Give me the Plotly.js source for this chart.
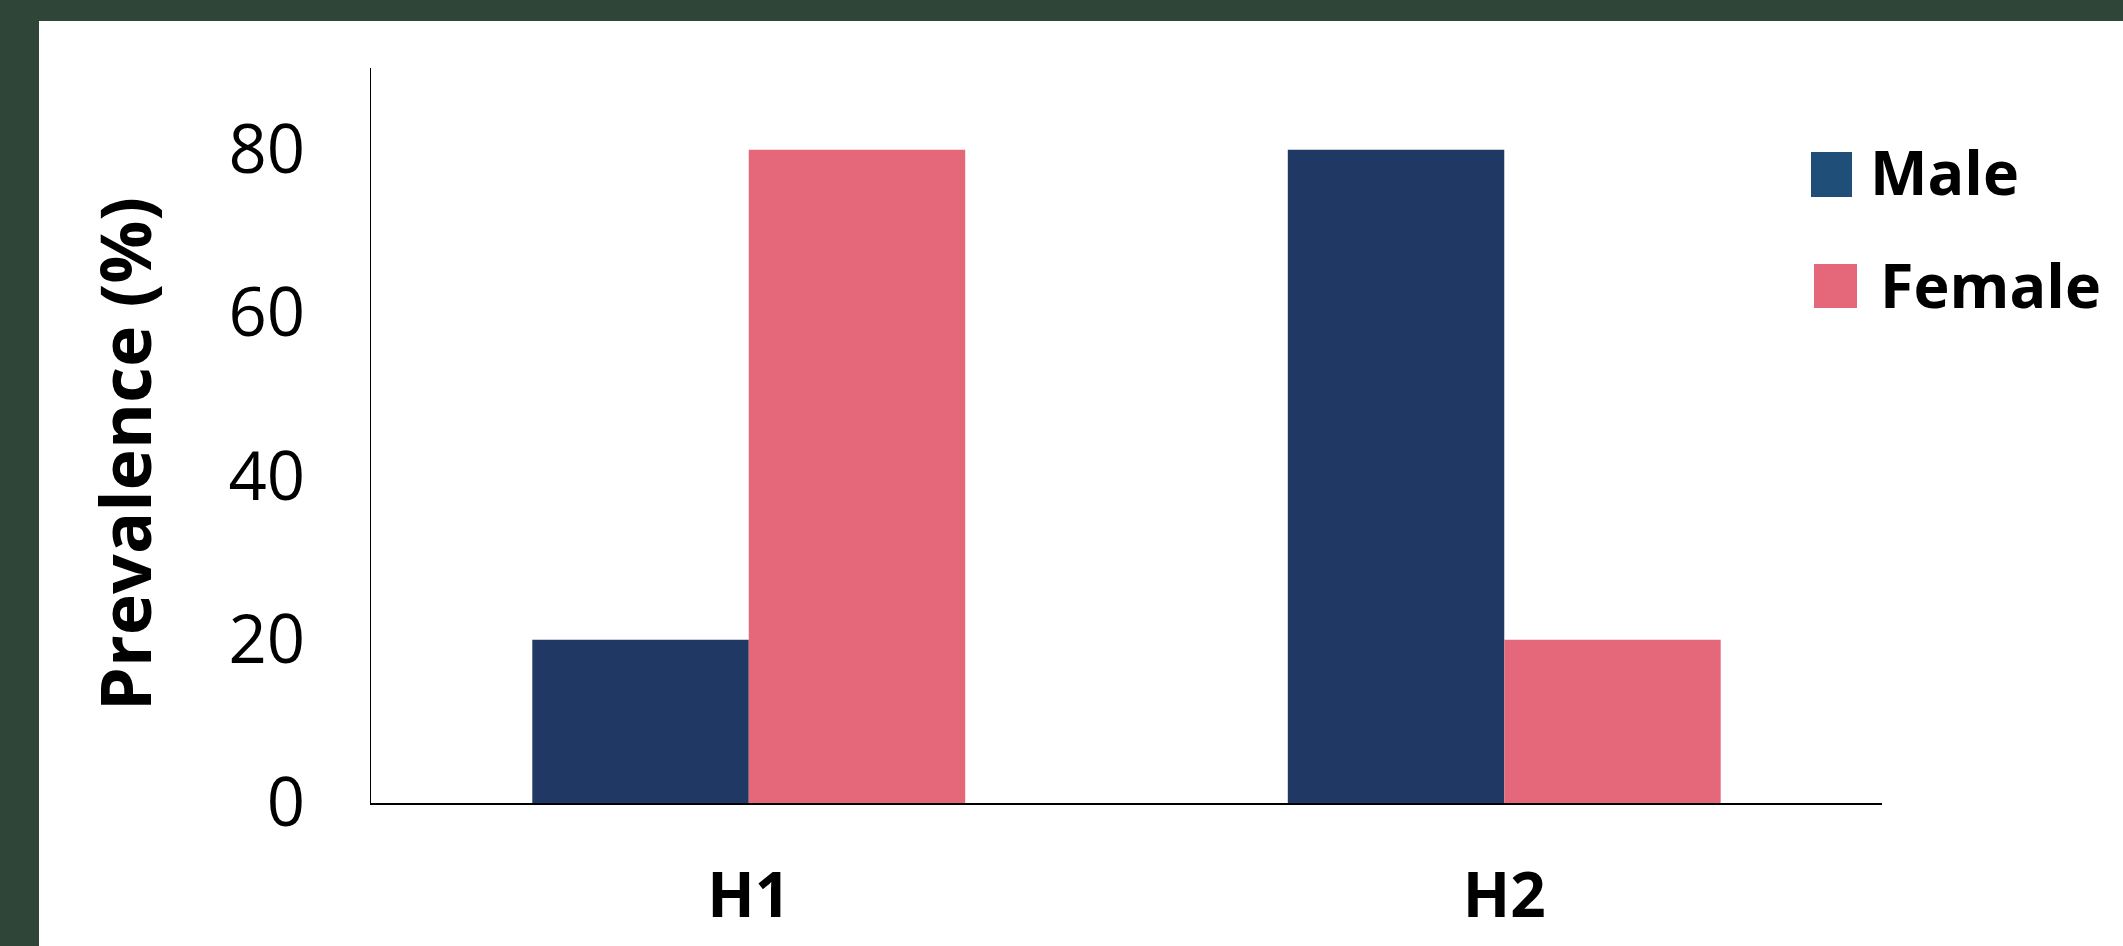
<!DOCTYPE html>
<html>
<head>
<meta charset="utf-8">
<script src="https://cdn.plot.ly/plotly-3.0.1.min.js"></script>
<style>
  html, body { margin:0; padding:0; width:2123px; height:946px; background:#2F4537; overflow:hidden; }
  #chart { position:absolute; left:39px; top:21px; width:2084px; height:925px; background:#fff; }
</style>
</head>
<body>
<div id="chart"></div>
<script>
const categories = ["H1", "H2"];
const seriesNames = ["Male", "Female"];
const maleValues = [20, 80];
const femaleValues = [80, 20];
const yTicks = [0, 20, 40, 60, 80];
const yTitle = "Prevalence (%)";

const barColors = ["#203864", "#E4687A"];
const legendColors = ["#1F4E79", "#E4687A"];

const W = 2084, H = 925;
const M = { l: 332, r: 241, t: 47, b: 143 };
const pw = W - M.l - M.r, ph = H - M.t - M.b;
// convert absolute page pixel to paper fraction
const px = X => (X - 39 - M.l) / pw;
const py = Y => (H - M.b - (Y - 21)) / ph;

const traces = [
  { type: "bar", name: seriesNames[0], x: categories, y: maleValues,
    marker: { color: barColors[0] }, showlegend: false, hoverinfo: "skip" },
  { type: "bar", name: seriesNames[1], x: categories, y: femaleValues,
    marker: { color: barColors[1] }, showlegend: false, hoverinfo: "skip" }
];

const legendBoxes = [
  { x0: 1811, x1: 1852, y0: 152, y1: 197, tx: 1868, ty: 172 },
  { x0: 1814, x1: 1857, y0: 264, y1: 308, tx: 1878, ty: 284 }
];

const shapes = legendBoxes.map((b, i) => ({
  type: "rect", xref: "paper", yref: "paper",
  x0: px(b.x0), x1: px(b.x1), y0: py(b.y1), y1: py(b.y0),
  fillcolor: legendColors[i], line: { width: 0 }
}));

const annotations = legendBoxes.map((b, i) => ({
  xref: "paper", yref: "paper", x: px(b.tx), y: py(b.ty),
  xanchor: "left", yanchor: "middle", showarrow: false,
  text: "<b>" + seriesNames[i] + "</b>",
  font: { family: "Open Sans", size: 61, color: "#000" }
}));

annotations.push({
  xref: "paper", yref: "paper", x: px(124), y: py(454),
  xanchor: "center", yanchor: "middle", showarrow: false,
  textangle: -90,
  text: "<b>" + yTitle + "</b>",
  font: { family: "Open Sans", size: 70, color: "#000" }
});

const layout = {
  width: W, height: H,
  margin: M,
  paper_bgcolor: "#ffffff",
  plot_bgcolor: "#ffffff",
  barmode: "group",
  bargap: 0.427,
  bargroupgap: 0,
  showlegend: false,
  xaxis: {
    type: "category",
    showline: true, linecolor: "#000", linewidth: 2,
    ticks: "", showgrid: false, zeroline: false,
    tickfont: { family: "Open Sans", size: 62, color: "#000", weight: "bold" },
    ticklabelstandoff: 38
  },
  yaxis: {
    range: [0, 90],
    tickvals: yTicks,
    ticktext: yTicks.map(String),
    showline: true, linecolor: "#000", linewidth: 1.5,
    ticks: "", showgrid: false, zeroline: false,
    tickfont: { family: "Open Sans", size: 67, color: "#000" },
    ticklabelstandoff: 51
  },
  shapes: shapes,
  annotations: annotations
};

Plotly.newPlot("chart", traces, layout, { staticPlot: true, displayModeBar: false });
</script>
</body>
</html>
